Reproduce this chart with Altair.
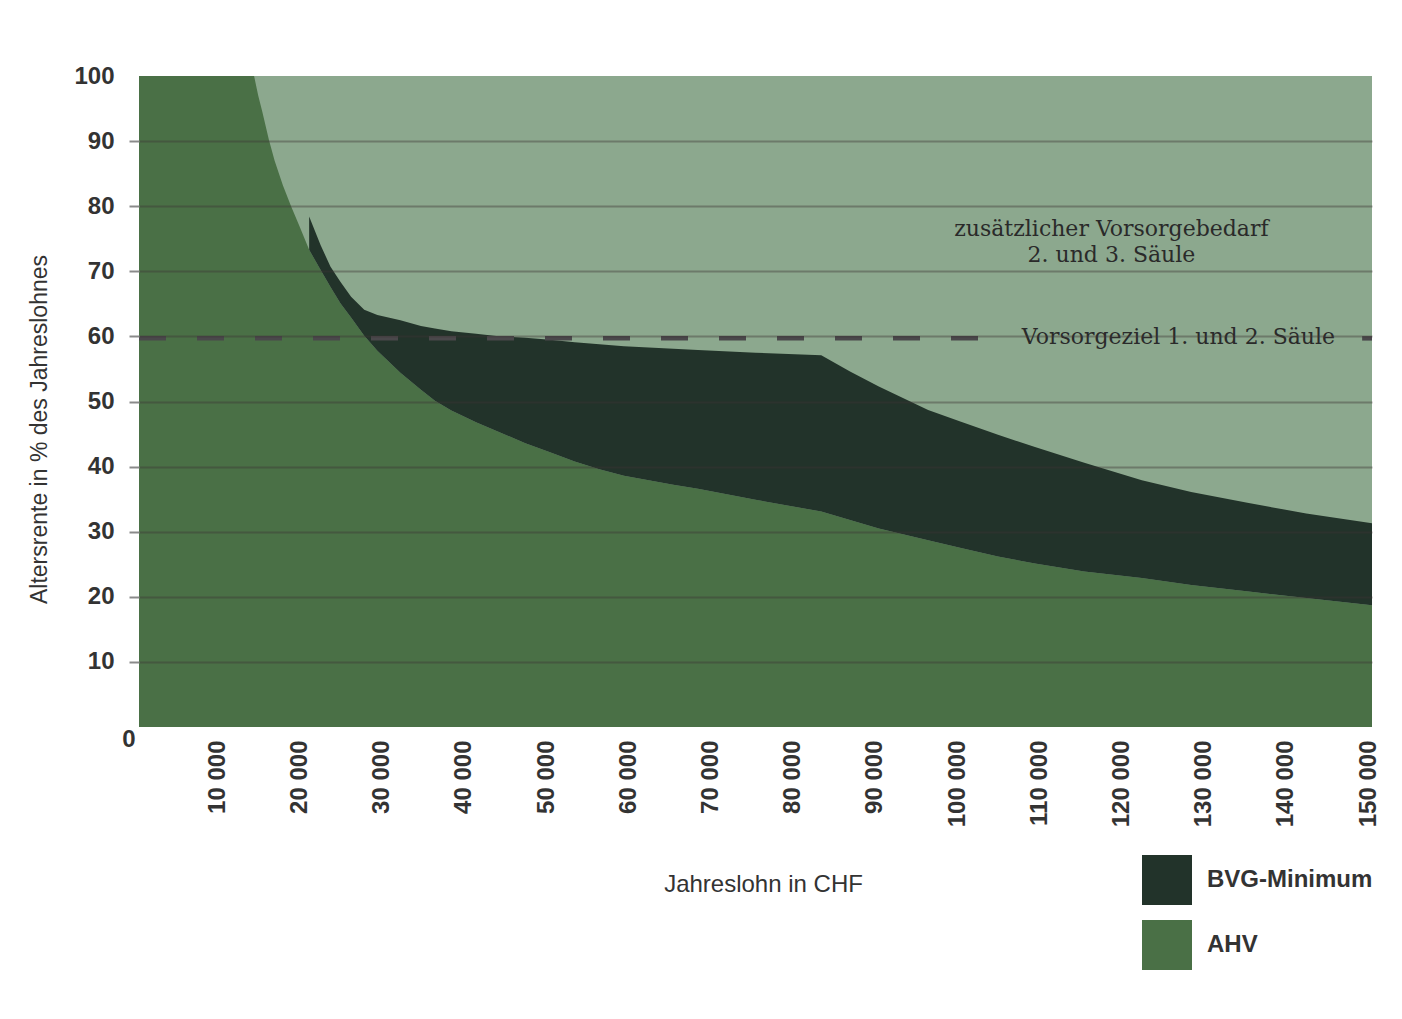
import altair as alt
import pandas as pd

# ---- data ----
salary = [0, 14000, 14500, 15000, 15800, 16500, 17500, 18500, 19500, 20700, 22100, 23300,
          24500, 25800, 27400, 29000, 31800, 34300, 36000, 38000, 41000, 44000, 47000,
          50000, 53000, 56000, 59000, 62000, 65000, 68000, 75000, 83000, 86500, 90000,
          96000, 100000, 104500, 109000, 115000, 122000, 128000, 135000, 142000, 150000]
ahv = [100, 100, 97.0, 94.5, 90.2, 87.0, 83.2, 80.0, 77.0, 73.3, 70.2, 67.6,
       65.1, 62.9, 60.1, 57.8, 54.4, 51.8, 50.1, 48.6, 46.8, 45.2, 43.6,
       42.2, 40.8, 39.6, 38.6, 37.9, 37.2, 36.6, 34.9, 33.1, 31.8, 30.5,
       28.7, 27.5, 26.2, 25.1, 23.9, 22.9, 21.8, 20.8, 19.8, 18.7]
bvg = [None, None, None, None, None, None, None, None, None, 78.4, 74.0, 70.7,
       68.4, 66.1, 64.1, 63.3, 62.5, 61.6, 61.2, 60.8, 60.4, 60.0, 59.8,
       59.5, 59.1, 58.8, 58.5, 58.3, 58.1, 57.9, 57.5, 57.1, 54.6, 52.3,
       48.7, 46.9, 44.9, 43.0, 40.6, 37.9, 36.1, 34.4, 32.8, 31.3]

series_names = ["BVG-Minimum", "AHV"]
series_colors = ["#22332a", "#4a7046"]

y_ticks = [10, 20, 30, 40, 50, 60, 70, 80, 90, 100]
x_ticks = [10000, 20000, 30000, 40000, 50000, 60000, 70000, 80000, 90000,
           100000, 110000, 120000, 130000, 140000, 150000]

goal_value = 59.7
goal_segments_start = [0, 148800]
goal_segments_end = [102300, 150000]
goal_label = "Vorsorgeziel 1. und 2. Säule"
goal_label_x = 107400

need_label = ["zusätzlicher Vorsorgebedarf", "2. und 3. Säule"]
need_label_x = 118300
need_label_y = 76.5

# ---- tables ----
base = pd.DataFrame({"salary": salary, "ahv": ahv, "bvg": bvg})
ahv_df = pd.DataFrame({"salary": base["salary"], "pct": base["ahv"], "base": 0.0,
                       "serie": "AHV"})
b = base.dropna(subset=["bvg"])
bvg_df = pd.DataFrame({"salary": b["salary"], "pct": b["bvg"], "base": b["ahv"],
                       "serie": "BVG-Minimum"})
goal_df = pd.DataFrame({"salary": goal_segments_start, "salary_end": goal_segments_end,
                        "pct": [goal_value] * len(goal_segments_start)})
goal_text_df = pd.DataFrame({"salary": [goal_label_x], "pct": [goal_value], "label": [goal_label]})
need_text_df = pd.DataFrame({"salary": [need_label_x], "pct": [need_label_y],
                             "label": [need_label]})
zero_df = pd.DataFrame({"salary": [0], "pct": [0], "label": ["0"]})

SANS = "Liberation Sans"
TXT = "#333333"

x_enc = alt.X(
    "salary:Q",
    scale=alt.Scale(domain=[0, 150000], nice=False, zero=False),
    axis=alt.Axis(
        values=x_ticks, labelAngle=-90, labelFlush=False, labelOverlap=False,
        labelExpr="replace(format(datum.value, ','), ',', ' ')",
        domain=False, ticks=False, grid=False, labelPadding=13, labelOffset=-4,
        labelFont=SANS, labelFontSize=24, labelFontWeight="bold", labelColor=TXT,
        title="Jahreslohn in CHF", titleFont=SANS, titleFontSize=24,
        titleFontWeight="normal", titleColor=TXT, titleX=624, titleY=157,
        titleBaseline="middle", titleAlign="center",
    ),
)
y_enc = alt.Y(
    "pct:Q",
    scale=alt.Scale(domain=[0, 100], nice=False),
    axis=alt.Axis(
        values=y_ticks, domain=False, grid=True, gridColor="#3d3535", gridWidth=2,
        gridOpacity={"condition": {"test": "datum.value >= 100", "value": 0}, "value": 0.4},
        tickSize=10, tickWidth=2, tickColor="#8a8a8a",
        tickOpacity={"condition": {"test": "datum.value >= 100", "value": 0}, "value": 1},
        labelPadding=15, labelFont=SANS, labelFontSize=24, labelFontWeight="bold",
        labelColor=TXT, zindex=1,
        title="Altersrente in % des Jahreslohnes", titleFont=SANS, titleFontSize=23,
        titleFontWeight="normal", titleColor=TXT, titleX=-93, titleY=353,
        titleAngle=-90, titleBaseline="alphabetic", titleAlign="center",
    ),
)

color_enc = alt.Color(
    "serie:N",
    scale=alt.Scale(domain=series_names, range=series_colors),
    legend=alt.Legend(
        orient="none", legendX=1003, legendY=779, title=None, padding=0,
        symbolType="square", symbolSize=2500, symbolStrokeWidth=0, symbolOpacity=1,
        labelFont=SANS, labelFontSize=24, labelFontWeight="bold", labelColor=TXT,
        labelOffset=15, rowPadding=15, labelLimit=400,
    ),
)

ahv_area = alt.Chart(ahv_df).mark_area(interpolate="linear", opacity=1).encode(
    x=x_enc, y=y_enc, y2="base:Q", color=color_enc)
bvg_area = alt.Chart(bvg_df).mark_area(interpolate="linear", opacity=1).encode(
    x=x_enc, y=y_enc, y2="base:Q", color=color_enc)

goal_rule = alt.Chart(goal_df).mark_rule(
    strokeDash=[27, 31], strokeWidth=4.5, color="#4a484b").encode(
    x=x_enc, x2="salary_end:Q", y=y_enc)

goal_text = alt.Chart(goal_text_df).mark_text(
    align="left", baseline="middle", font="DejaVu Serif", fontSize=22,
    color="#2a2a2a", dy=-1).encode(x=x_enc, y=y_enc, text="label:N")

need_text = alt.Chart(need_text_df).mark_text(
    align="center", baseline="middle", font="DejaVu Serif", fontSize=22,
    color="#2a2a2a", lineHeight=26).encode(x=x_enc, y=y_enc, text="label")

zero_text = alt.Chart(zero_df).mark_text(
    align="center", baseline="middle", font=SANS, fontSize=24, fontWeight="bold",
    color=TXT, dx=-10, dy=13).encode(x=x_enc, y=y_enc, text="label:N")

chart = alt.layer(ahv_area, bvg_area, goal_rule, goal_text, need_text, zero_text).properties(
    width=1233, height=651,
    autosize=alt.AutoSizeParams(type="none"),
    padding={"left": 131, "top": 68, "right": 16, "bottom": 245},
    background="white",
).configure_view(fill="#8ca88e", strokeWidth=0)

chart.save("out.html", embed_options={"renderer": "svg", "actions": False})
